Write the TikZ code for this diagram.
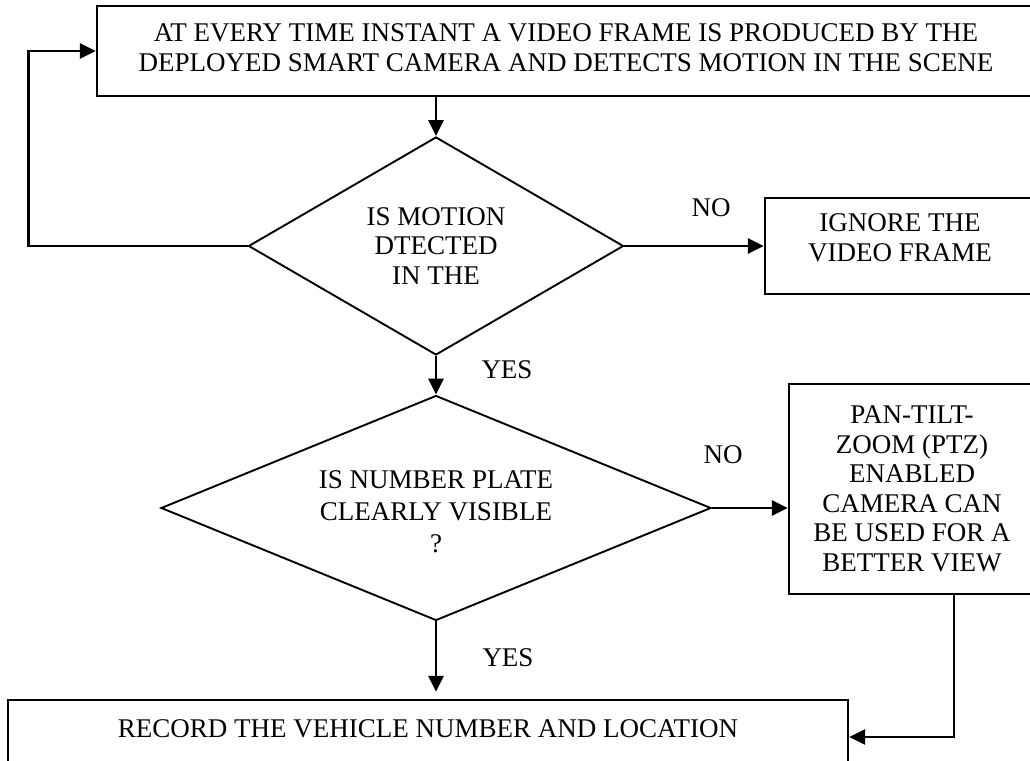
\documentclass[tikz,border=0pt]{standalone}
\usepackage{fontspec}
\setmainfont{Liberation Serif}
\usetikzlibrary{arrows.meta,shapes.geometric}

\begin{document}
\begin{tikzpicture}[x=1pt,y=-1pt,
	every node/.style={font=\fontsize{27}{29.5}\selectfont},
	block/.style={draw,line width=2.4pt,rectangle,align=center,inner sep=0pt},
	decision/.style={draw,line width=1.9pt,diamond,align=center,inner sep=0pt,aspect=2},
	flow/.style={line width=2.8pt,-{Triangle[length=16pt,width=15pt]}}]
				\useasboundingbox[clip] (0,0) rectangle (1030,760);
				
				\node[block, minimum width=938pt, minimum height=90pt, text height=40pt, text depth=0pt] (frame) at (566,51) {AT EVERY TIME INSTANT A VIDEO FRAME IS PRODUCED BY THE\\DEPLOYED SMART CAMERA AND DETECTS MOTION IN THE SCENE};
				
				\node[decision, minimum width=375pt, minimum height=218pt] (motion) at (436,246) {IS MOTION\\DTECTED\\IN THE};
				\node[block, minimum width=270pt, minimum height=96pt, text height=30pt, text depth=0pt] (ignore) at (900,246) {IGNORE THE\\VIDEO FRAME};
				
				\node[decision, minimum width=550pt, minimum height=225pt, font=\fontsize{27}{32}\selectfont, text height=88pt, text depth=0pt] (plate) at (436,508) {IS NUMBER PLATE\\CLEARLY VISIBLE\\?};
				\node[block, minimum width=246pt, minimum height=210pt] (ptz) at (912,489) {PAN-TILT-\\ZOOM (PTZ)\\ENABLED\\CAMERA CAN\\BE USED FOR A\\BETTER VIEW};
				
				\node[block, minimum width=840pt, minimum height=72pt, text height=9pt, text depth=7pt] (record) at (428,736) {RECORD THE VEHICLE NUMBER AND LOCATION};
				
				\node (no1) at (711,208) {NO};
				\node (no2) at (723,455) {NO};
				\node (yes1) at (507,370) {YES};
				\node (yes2) at (508,658) {YES};
				
				\draw[flow] (motion.north |- frame.south) -- (motion.north);
				\draw[flow] (motion.west) -- ++(-219,0) |- (frame.west);
				\draw[flow] (motion.east) -- (ignore.west);
				\draw[flow] (motion.south) -- (plate.north);
				\draw[flow] (plate.east) -- (plate.east -| ptz.west);
				\draw[flow, shorten >=7pt] (plate.south) -- (plate.south |- record.north);
				\draw[flow] ([xshift=42pt]ptz.south) |- ([yshift=-1pt]record.east);
			\end{tikzpicture}
\end{document}
